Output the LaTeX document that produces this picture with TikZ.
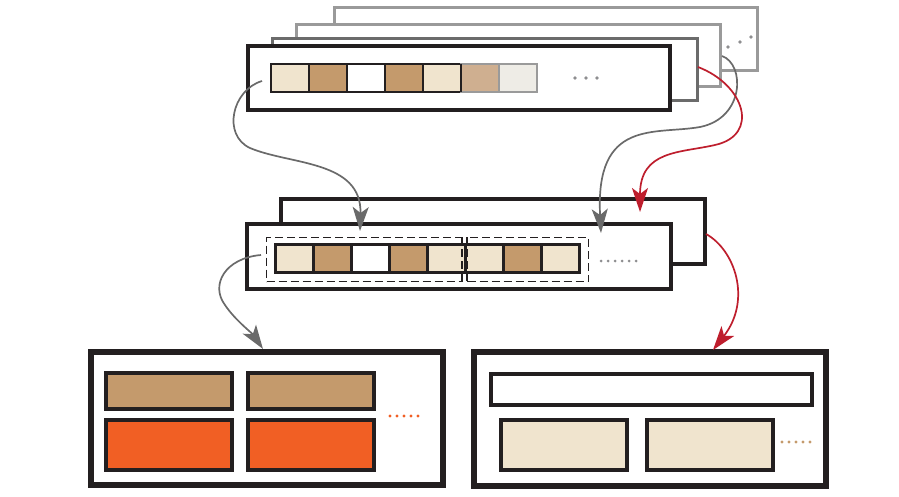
\documentclass[tikz,border=0pt]{standalone}
\usetikzlibrary{arrows.meta}
\definecolor{ink}{HTML}{231F20}
\definecolor{beige}{HTML}{F0E4CE}
\definecolor{tan}{HTML}{C49A6C}
\definecolor{ltan}{HTML}{CFAF90}
\definecolor{pale}{HTML}{EEECE6}
\definecolor{gA}{HTML}{9A9A9A}
\definecolor{gB}{HTML}{6B6B6B}
\definecolor{gray1}{HTML}{8E8E90}
\definecolor{arrgray}{HTML}{6A6A6A}
\definecolor{arrred}{HTML}{BE1E2D}
\definecolor{orng}{HTML}{F15F24}
\tikzset{
  frame/.style={draw=ink, fill=white, line width=4pt, inner sep=0, outer sep=0, anchor=north west},
  cell/.style={draw=ink, line width=2.4pt, inner sep=0, outer sep=0, anchor=north west, minimum width=38pt, minimum height=28pt},
  dbox/.style={draw=ink, line width=1.1pt, dash pattern=on 8pt off 4pt, inner sep=0, anchor=north west},
  ibox/.style={draw=ink, line width=4pt, inner sep=0, anchor=north west},
  dot/.style={circle, inner sep=0, minimum size=3.6pt},
  conn/.style={line width=1.7pt, -{Stealth[length=24pt,width=16pt,inset=6pt]}},
}
\begin{document}
\begin{tikzpicture}[x=1pt,y=-1pt]
\useasboundingbox (0,0) rectangle (899,497);
% top stack
\node[frame, draw=gA, line width=3pt, minimum width=423pt, minimum height=63pt] (f4) at (334.5,7.5) {};
\node[frame, draw=gA, line width=3pt, minimum width=424pt, minimum height=62pt] (f3) at (296.5,24.5) {};
\node[frame, draw=gB, line width=3pt, minimum width=425pt, minimum height=62pt] (f2) at (272.5,38.5) {};
\node[frame, minimum width=422pt, minimum height=64pt] (f1) at (248,46) {};
\node[cell, fill=beige] (t1) at (271,64) {};
\node[cell, fill=tan] (t2) at (309,64) {};
\node[cell, fill=white] (t3) at (347,64) {};
\node[cell, fill=tan] (t4) at (385,64) {};
\node[cell, fill=beige] (t5) at (423,64) {};
\node[cell, fill=ltan, draw=gA, line width=1.8pt] (t6) at (461,64) {};
\node[cell, fill=pale, draw=gA, line width=1.8pt] (t7) at (499,64) {};
\draw[ink, line width=2.4pt] (461,64) -- (461,92);
\foreach \x [count=\i] in {575,586,597} \node[dot, fill=gray1] (td\i) at (\x,78) {};
\foreach \x/\y [count=\i] in {728/47,740/42,751/37} \node[dot, fill=gray1] (bd\i) at (\x,\y) {};
% middle
\node[frame, minimum width=424pt, minimum height=65pt] (m2) at (281,199) {};
\node[frame, minimum width=424pt, minimum height=65pt] (m1) at (247,224) {};
\node[dbox, minimum width=196pt, minimum height=44pt] (d1) at (266,237) {};
\node[dbox, minimum width=121pt, minimum height=44pt] (d2) at (467,237) {};
\node[cell, fill=beige] (c1) at (275.5,244.5) {};
\node[cell, fill=tan] (c2) at (313.5,244.5) {};
\node[cell, fill=white] (c3) at (351.5,244.5) {};
\node[cell, fill=tan] (c4) at (389.5,244.5) {};
\node[cell, fill=beige] (c5) at (427.5,244.5) {};
\node[cell, fill=beige] (c6) at (465.5,244.5) {};
\node[cell, fill=tan] (c7) at (503.5,244.5) {};
\node[cell, fill=beige] (c8) at (541.5,244.5) {};
\draw[ink, line width=1.1pt, dash pattern=on 8pt off 4pt] (462,237) -- (462,281);
\draw[ink, line width=1.1pt, dash pattern=on 8pt off 4pt] (467,237) -- (467,281);
\foreach \x [count=\i] in {601,608,615,622,629,636} \node[dot, fill=gray1, minimum size=3pt] (md\i) at (\x,261) {};
% bottom left
\node[frame, line width=6pt, minimum width=352pt, minimum height=133pt] (bl) at (91,352) {};
\node[ibox, fill=tan, minimum width=126pt, minimum height=36pt] (bl1) at (104,371) {};
\node[ibox, fill=tan, minimum width=126pt, minimum height=36pt] (bl2) at (246,371) {};
\node[ibox, fill=orng, minimum width=126pt, minimum height=50pt] (bl3) at (104,418) {};
\node[ibox, fill=orng, minimum width=126pt, minimum height=50pt] (bl4) at (246,418) {};
\foreach \x [count=\i] in {390,397,404,411,418} \node[dot, fill=orng, minimum size=3.4pt] (od\i) at (\x,416) {};
% bottom right
\node[frame, line width=6pt, minimum width=352pt, minimum height=134pt] (br) at (474,352) {};
\node[ibox, fill=white, minimum width=321pt, minimum height=31pt] (br0) at (489,372) {};
\node[ibox, fill=beige, minimum width=126pt, minimum height=50pt] (br1) at (499,418) {};
\node[ibox, fill=beige, minimum width=126pt, minimum height=50pt] (br2) at (645,418) {};
\foreach \x [count=\i] in {782,789,796,803,810} \node[dot, fill=tan, minimum size=3.4pt] (rd\i) at (\x,442) {};
% connectors
\coordinate (s1) at (262,81);
\coordinate (e1) at (360,231);
\draw[conn, arrgray] (s1) .. controls (232,90) and (222,135) .. (250,148) .. controls (290,165) and (362,160) .. (e1);
\coordinate (s2) at (722,56);
\coordinate (e2) at (601,233);
\draw[conn, arrgray] (s2) .. controls (745,64) and (745,118) .. (700,127) .. controls (655,135) and (595,118) .. (e2);
\coordinate (s3) at (698,67);
\coordinate (e3) at (640,212);
\draw[conn, arrred] (s3) .. controls (745,85) and (760,135) .. (715,145) .. controls (680,153) and (640,150) .. (e3);
\coordinate (s4) at (261,255);
\coordinate (e4) at (263,349);
\draw[conn, arrgray] (s4) .. controls (225,258) and (210,285) .. (225,305) .. controls (235,320) and (252,333) .. (e4);
\coordinate (s5) at (706,234);
\coordinate (e5) at (713,350);
\draw[conn, arrred] (s5) .. controls (735,250) and (752,300) .. (e5);
\end{tikzpicture}
\end{document}
